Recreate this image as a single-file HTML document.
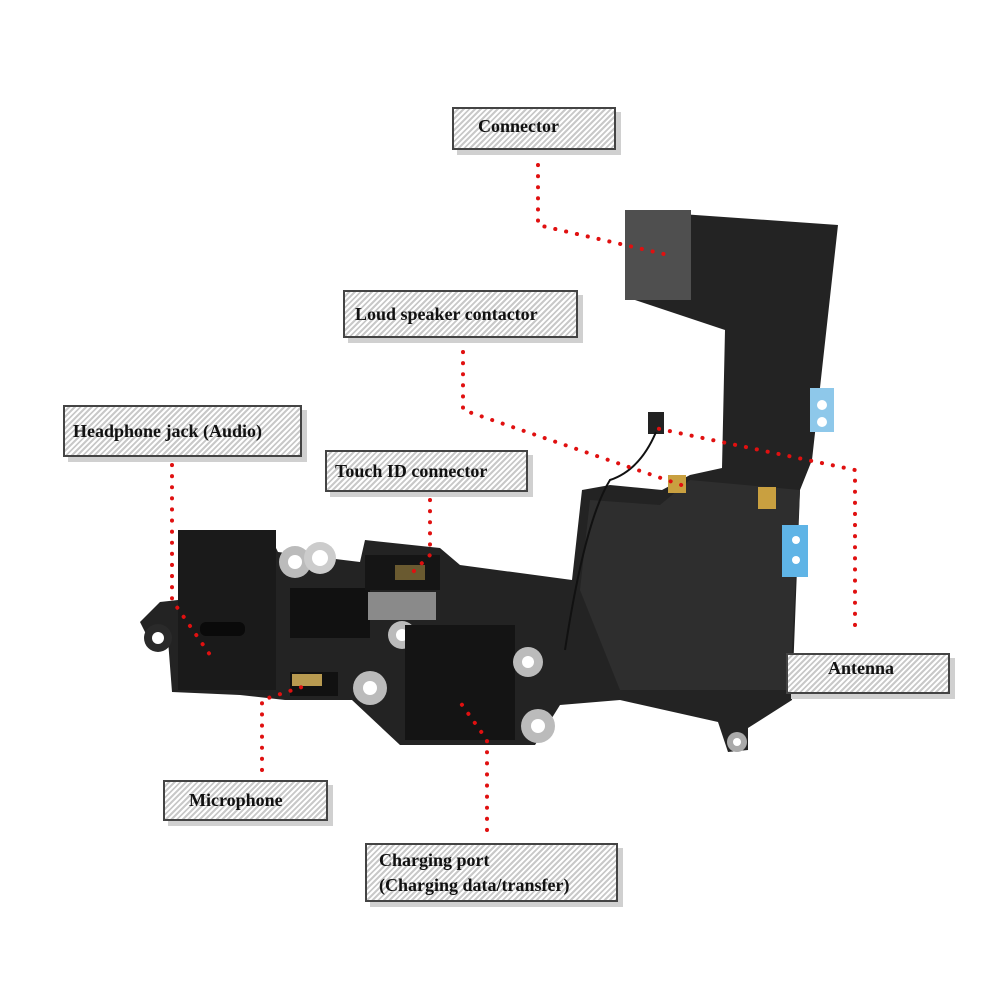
<!DOCTYPE html>
<html><head><style>
html,body{margin:0;padding:0;background:#fff;}
body{width:1000px;height:1000px;position:relative;overflow:hidden;font-family:"Liberation Serif",serif;}
.lb{position:absolute;border:2px solid #444;box-sizing:border-box;
background:repeating-linear-gradient(135deg,#fff 0 2px,#c9c9c9 2px 4px);
box-shadow:5px 5px 0 #d0d0d0;font-weight:bold;font-size:18px;color:#111;}
.lb span{position:absolute;}
</style></head><body>
<svg width="1000" height="1000" style="position:absolute;left:0;top:0">
<!-- flex body -->
<polygon fill="#232323" points="625,210 838,225 812,460 800,490 792,700 748,728 748,750 728,752 718,722 620,700 560,705 535,745 400,745 352,700 285,700 240,695 172,692 168,640 150,642 140,622 160,602 178,600 190,530 272,540 278,552 360,562 365,540 440,548 460,565 572,580 582,490 610,485 662,490 690,475 722,468 725,330 635,300"/>
<polygon fill="#2e2e2e" points="590,500 660,505 690,480 800,490 790,690 620,690 580,590"/>
<rect x="625" y="210" width="66" height="90" fill="#4f4f4f"/>
<rect x="810" y="388" width="24" height="44" fill="#8ec8ea"/>
<rect x="782" y="525" width="26" height="52" fill="#5fb4e6"/>
<circle cx="822" cy="405" r="5" fill="#fff"/><circle cx="822" cy="422" r="5" fill="#fff"/>
<circle cx="796" cy="540" r="4" fill="#fff"/><circle cx="796" cy="560" r="4" fill="#fff"/>
<rect x="668" y="475" width="18" height="18" fill="#c9a040"/>
<rect x="758" y="487" width="18" height="22" fill="#c9a040"/>
<rect x="648" y="412" width="16" height="22" fill="#222"/>
<path d="M656,432 Q640,470 610,480 Q585,520 565,650" stroke="#111" stroke-width="2" fill="none"/>
<!-- headphone jack -->
<rect x="178" y="530" width="98" height="160" fill="#1a1a1a"/>
<rect x="200" y="622" width="45" height="14" rx="6" fill="#0a0a0a"/>
<circle cx="158" cy="638" r="14" fill="#2a2a2a"/><circle cx="158" cy="638" r="6" fill="#fff"/>
<!-- brackets -->
<circle cx="295" cy="562" r="16" fill="#bbb"/><circle cx="295" cy="562" r="7" fill="#fff"/>
<circle cx="320" cy="558" r="16" fill="#ccc"/><circle cx="320" cy="558" r="8" fill="#fff"/>
<rect x="290" y="588" width="80" height="50" fill="#111"/>
<rect x="365" y="555" width="75" height="35" fill="#151515"/>
<rect x="395" y="565" width="30" height="15" fill="#6a5a30"/>
<rect x="368" y="592" width="68" height="28" fill="#8a8a8a"/>
<circle cx="402" cy="635" r="14" fill="#bbb"/><circle cx="402" cy="635" r="6" fill="#fff"/>
<rect x="290" y="672" width="48" height="24" fill="#111"/><rect x="292" y="674" width="30" height="12" fill="#b89a50"/>
<!-- charging port -->
<rect x="405" y="625" width="110" height="115" fill="#141414"/>
<circle cx="370" cy="688" r="17" fill="#bbb"/><circle cx="370" cy="688" r="7" fill="#fff"/>
<circle cx="528" cy="662" r="15" fill="#bbb"/><circle cx="528" cy="662" r="6" fill="#fff"/>
<circle cx="538" cy="726" r="17" fill="#bbb"/><circle cx="538" cy="726" r="7" fill="#fff"/>
<circle cx="737" cy="742" r="10" fill="#aaa"/><circle cx="737" cy="742" r="4" fill="#fff"/>
<!-- dotted leaders -->
<g stroke="#e01010" stroke-width="4" stroke-linecap="round" stroke-dasharray="0.1 11" fill="none">
<polyline points="538,165 538,225 668,255"/>
<polyline points="463,352 463,410 690,488"/>
<polyline points="855,625 855,470 655,428"/>
<polyline points="172,465 172,600 215,662"/>
<polyline points="430,500 430,555 410,575"/>
<polyline points="262,770 262,700 305,686"/>
<polyline points="487,830 487,740 460,702"/>
</g>
</svg>
<div class="lb" style="left:452px;top:107px;width:164px;height:43px"><span style="left:24px;top:7px">Connector</span></div>
<div class="lb" style="left:343px;top:290px;width:235px;height:48px"><span style="left:10px;top:12px">Loud speaker contactor</span></div>
<div class="lb" style="left:63px;top:405px;width:239px;height:52px"><span style="left:8px;top:14px">Headphone jack (Audio)</span></div>
<div class="lb" style="left:325px;top:450px;width:203px;height:42px"><span style="left:8px;top:9px">Touch ID connector</span></div>
<div class="lb" style="left:786px;top:653px;width:164px;height:41px"><span style="left:40px;top:3px">Antenna</span></div>
<div class="lb" style="left:163px;top:780px;width:165px;height:41px"><span style="left:24px;top:8px">Microphone</span></div>
<div class="lb" style="left:365px;top:843px;width:253px;height:59px"><span style="left:12px;top:3px;line-height:25px">Charging port<br>(Charging data/transfer)</span></div>
</body></html>
